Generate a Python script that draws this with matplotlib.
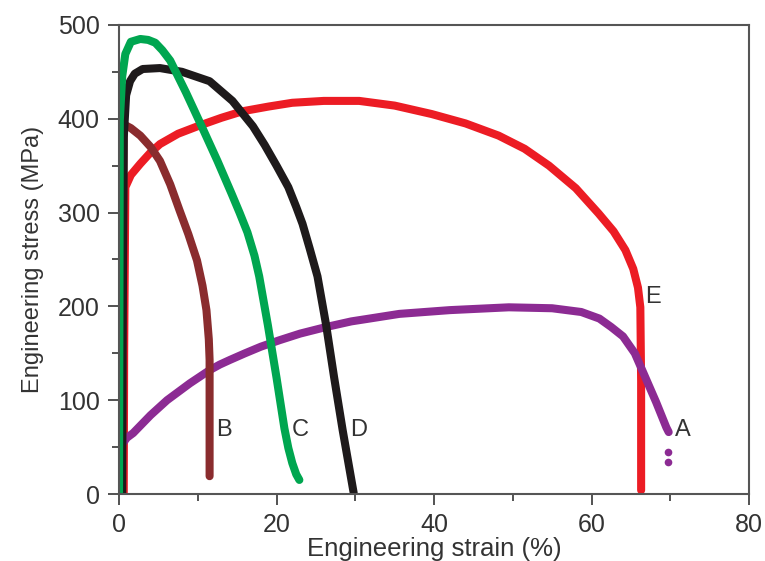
import matplotlib.pyplot as plt

plt.rcParams['font.family'] = ['Liberation Sans', 'DejaVu Sans']

# strain (%) / stress (MPa)
a_strain = [0, 0.1, 0.3, 1, 1.8, 4, 6.1, 9, 11.5, 12.8, 14.1, 16, 18, 20.4, 23, 26.3, 29.5, 31.8,
            35.6, 42, 49.5, 55, 58.7, 61, 62.5, 64, 65.5, 66.8, 68.2, 69.5, 69.8]
a_stress = [0, 30, 52, 60, 65, 84, 100, 118, 132, 138, 143, 150, 157, 164, 171, 178, 184, 187,
            192, 196, 199, 198, 194, 187, 178, 168, 150, 125, 98, 71, 66]
a_tail_strain = [69.7, 69.7]
a_tail_stress = [45, 34]

b_strain = [0.3, 0.4, 0.5, 0.6, 1.5, 2.7, 4, 5.2, 6.5, 7.7, 8.8, 9.9, 10.6, 11.1, 11.4, 11.5, 11.5]
b_stress = [0, 60, 250, 394, 390, 382, 370, 355, 330, 302, 277, 249, 222, 196, 165, 143, 19]

c_strain = [0, 0.05, 0.1, 0.4, 0.8, 1.5, 2.7, 3.7, 4.6, 5.5, 6.5, 8.5, 10.6, 12.5, 14.3, 15.3,
            16.3, 17.2, 17.8, 18.9, 20, 21, 21.5, 22, 22.5, 22.9]
c_stress = [0, 200, 398, 445, 469, 482, 485, 484, 481, 473, 462, 428, 390, 355, 320, 300,
            279, 254, 232, 180, 124, 70, 49, 33, 21, 15]

d_strain = [0.4, 0.45, 0.6, 0.9, 1.4, 2, 3, 5.2, 8, 11.5, 14.4, 17, 18.5, 20, 21.5, 22.5, 23.3,
            24.2, 25.2, 26.3, 27.3, 28.4, 29.8]
d_stress = [0, 150, 380, 425, 440, 448, 453, 454, 450, 440, 419, 392, 372, 350, 327, 306, 288,
            262, 232, 180, 125, 68, 1]

e_strain = [0.6, 0.65, 0.8, 1.5, 2.7, 4, 5.2, 7.5, 10.3, 13, 15.7, 19, 22, 26, 30.5, 35, 39.7,
            44, 48.2, 51.5, 54.6, 58, 60.9, 62.8, 64.3, 65.3, 65.9, 66.2, 66.3, 66.3]
e_stress = [0, 150, 327, 340, 352, 364, 373, 384, 393, 401, 408, 413, 417, 419, 419, 414, 405,
            395, 382, 368, 350, 326, 299, 280, 260, 240, 220, 199, 120, 4]

curves = [
    (e_strain, e_stress, '#ec1c24'),
    (a_strain, a_stress, '#8c2b93'),
    (b_strain, b_stress, '#8a2c2e'),
    (d_strain, d_stress, '#1e1a1b'),
    (c_strain, c_stress, '#00a650'),
]
labels = ['A', 'B', 'C', 'D', 'E']
label_x = [70.6, 12.3, 21.9, 29.4, 66.8]
label_y = [68, 68, 68, 68, 210]

fig = plt.figure(figsize=(7.65, 5.61), dpi=100)
ax = fig.add_axes([0.1556, 0.1194, 0.8235, 0.8362])

for xs, ys, col in curves:
    ax.plot(xs, ys, color=col, lw=5.8, solid_capstyle='round', solid_joinstyle='round')
ax.plot(a_tail_strain, a_tail_stress, 'o', color='#8c2b93', ms=5.5, mec='none')

for lab, lx, ly in zip(labels, label_x, label_y):
    ax.text(lx, ly, lab, fontsize=17, color='#333333', va='center', ha='left')

ax.set_xlim(0, 80)
ax.set_ylim(0, 500)
ax.set_xticks([0, 20, 40, 60, 80])
ax.set_xticks([10, 30, 50, 70], minor=True)
ax.set_yticks([0, 100, 200, 300, 400, 500])
ax.set_yticks([50, 150, 250, 350, 450], minor=True)
ax.tick_params(which='major', length=8, width=1.3, color='#444444', labelsize=18,
               labelcolor='#333333', pad=6)
ax.tick_params(which='minor', length=5, width=1.3, color='#444444')
for s in ax.spines.values():
    s.set_color('#555555')
    s.set_linewidth(1.5)

ax.set_xlabel('Engineering strain (%)', fontsize=18.5, color='#333333', labelpad=0)
ax.set_ylabel('Engineering stress (MPa)', fontsize=17, color='#333333', labelpad=10)

fig.savefig('out.png', dpi=100)
